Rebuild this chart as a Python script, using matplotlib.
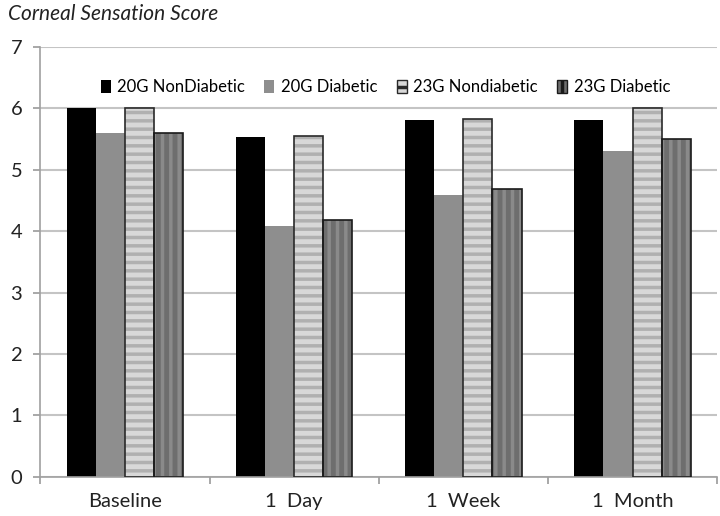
import numpy as np
import matplotlib
matplotlib.use('Agg')
import matplotlib.pyplot as plt
from matplotlib.patches import Patch

FONT = ['Lato', 'DejaVu Sans']
GRID_COLOR = '#c4c4c4'

categories = ['Baseline', '1  Day', '1  Week', '1  Month']
series_names = ['20G NonDiabetic', '20G Diabetic', '23G Nondiabetic', '23G Diabetic']
nondiabetic_20g = [6.0, 5.53, 5.81, 5.81]
diabetic_20g = [5.6, 4.09, 4.59, 5.3]
nondiabetic_23g = [6.0, 5.55, 5.82, 6.0]
diabetic_23g = [5.6, 4.18, 4.69, 5.5]

# face, hatch, hatch colour, edge
STYLES = [
    ('#000000', None, None, 'none'),
    ('#8e8e8e', None, None, 'none'),
    ('#d8d8d8', '--', '#b0b0b0', '#2a2a2a'),
    ('#6e6e6e', '||', '#8a8a8a', '#1a1a1a'),
]
BAR_W = 0.172


def draw_series(ax, x, values, style):
    face, hatch, hcolor, edge = style
    if hatch:
        ax.bar(x, values, BAR_W, color=face, edgecolor=hcolor, hatch=hatch,
               linewidth=0, zorder=2)
        ax.bar(x, values, BAR_W, color='none', edgecolor=edge, linewidth=1.2, zorder=3)
    else:
        ax.bar(x, values, BAR_W, color=face, edgecolor=edge, linewidth=0, zorder=2)


def main():
    plt.rcParams['font.family'] = FONT
    plt.rcParams['hatch.linewidth'] = 2.5

    fig = plt.figure(figsize=(7.2, 5.16), dpi=100)
    ax = fig.add_axes([0.056, 0.076, 0.94, 0.833])

    x = np.arange(len(categories))
    all_values = [nondiabetic_20g, diabetic_20g, nondiabetic_23g, diabetic_23g]
    for i, (vals, style) in enumerate(zip(all_values, STYLES)):
        draw_series(ax, x + (i - 1.5) * BAR_W, vals, style)

    ax.set_xlim(-0.5, len(categories) - 0.5)
    ax.set_ylim(0, 7)
    ax.set_yticks(range(8))
    ax.yaxis.grid(True, color=GRID_COLOR, linewidth=1.5, zorder=0)
    ax.set_axisbelow(True)

    ax.set_xticks(x)
    ax.set_xticklabels(categories, fontsize=14.5, color='#222222')
    ax.set_xticks(np.arange(len(categories) + 1) - 0.5, minor=True)
    ax.tick_params(axis='x', which='major', length=0, pad=12)
    ax.tick_params(axis='x', which='minor', length=5, color='#999999', width=1.2)
    ax.tick_params(axis='y', length=5, color='#999999', width=1.2, labelsize=14.5,
                   labelcolor='#222222', pad=8)

    for side in ['top', 'right']:
        ax.spines[side].set_visible(False)
    for side in ['left', 'bottom']:
        ax.spines[side].set_color('#a0a0a0')
        ax.spines[side].set_linewidth(1.2)

    handles = []
    for name, (face, hatch, hcolor, edge) in zip(series_names, STYLES):
        if hatch:
            handles.append(Patch(facecolor=face, edgecolor=edge, hatch=hatch, label=name))
        else:
            handles.append(Patch(facecolor=face, edgecolor='none', label=name))
    ax.legend(handles=handles, loc='center', bbox_to_anchor=(0.51, 0.907), ncol=4,
              frameon=False, fontsize=12, handlelength=0.6, handleheight=0.8,
              handletextpad=0.4, columnspacing=1.15)

    fig.text(0.011, 0.973, 'Corneal Sensation Score', fontsize=15, style='italic',
             color='#222222', va='center', ha='left')

    fig.savefig('out.png', dpi=100)


if __name__ == '__main__':
    main()
